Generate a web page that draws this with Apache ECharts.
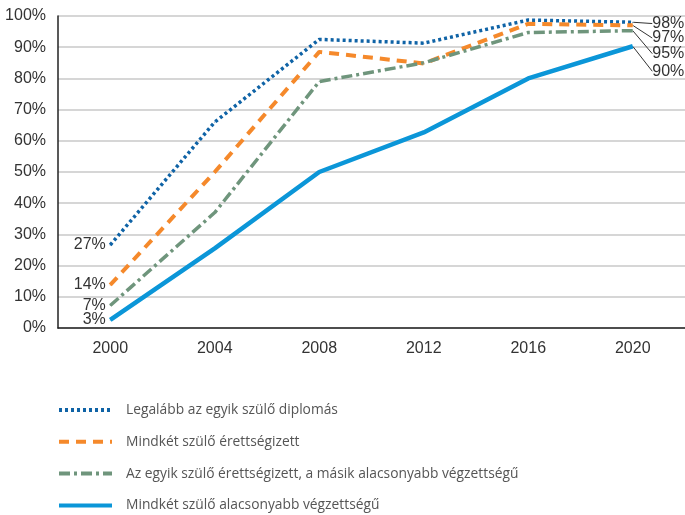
<!DOCTYPE html>
<html>
<head>
<meta charset="utf-8">
<script src="https://cdn.jsdelivr.net/npm/echarts@6/dist/echarts.min.js"></script>
<style>
html, body { margin: 0; padding: 0; background: #fff; }
#chart { width: 685px; height: 515px; }
</style>
</head>
<body>
<div id="chart"></div>
<script>
// évek és a négy szülői csoport aránya (%)
var years = ['2000', '2004', '2008', '2012', '2016', '2020'];
var names = [
    'Legalább az egyik szülő diplomás',
    'Mindkét szülő érettségizett',
    'Az egyik szülő érettségizett, a másik alacsonyabb végzettségű',
    'Mindkét szülő alacsonyabb végzettségű'
];
var diplomas = [26.6, 66, 92.5, 91.3, 98.7, 98];
var erettsegi = [13.8, 50, 88.5, 84.8, 97.5, 97];
var vegyes = [7.2, 37, 79, 85, 94.7, 95.3];
var alacsony = [2.6, 25.5, 50, 62.7, 80, 90.3];

var myChart = echarts.init(document.getElementById('chart'));

var labelFont = {
    color: '#333',
    fontSize: 16,
    fontFamily: 'Liberation Sans'
};

// első és utolsó pont felirata
function makeData(values, leftDy) {
    return values.map(function (v, i) {
        var item = { value: v };
        if (i === 0) {
            item.label = {
                show: true,
                position: 'left',
                distance: 4,
                offset: [0, leftDy]
            };
        }
        if (i === values.length - 1) {
            item.label = {
                show: true,
                position: 'right',
                distance: 4
            };
            item.labelLine = { show: true };
        }
        return item;
    });
}

function makeSeries(name, values, color, width, type, leftDy, rightDy) {
    var last = values.length - 1;
    return {
        name: name,
        type: 'line',
        data: makeData(values, leftDy),
        symbol: 'circle',
        symbolSize: 1,
        itemStyle: { color: color },
        lineStyle: {
            color: color,
            width: width,
            type: type,
            cap: 'butt',
            join: 'round'
        },
        label: {
            show: false,
            formatter: function (p) {
                return Math.round(p.value) + '%';
            },
            color: labelFont.color,
            fontSize: labelFont.fontSize,
            fontFamily: labelFont.fontFamily
        },
        labelLine: {
            show: false,
            lineStyle: { color: '#333', width: 1 }
        },
        labelLayout: function (params) {
            if (params.dataIndex === last) {
                return { dx: 15, dy: rightDy };
            }
            return {};
        },
        emphasis: { disabled: true },
        animation: false
    };
}

var option = {
    backgroundColor: '#fff',
    grid: {
        left: 58,
        right: 0,
        top: 16,
        height: 312
    },
    legend: {
        orient: 'vertical',
        left: 57,
        top: 403,
        padding: 0,
        itemWidth: 53,
        itemHeight: 14,
        itemGap: 17.8,
        itemStyle: { opacity: 0 },
        lineStyle: { width: 4 },
        textStyle: {
            color: '#555',
            fontSize: 13.8,
            lineHeight: 14,
            fontFamily: 'Open Sans',
            padding: [0, 0, 0, 9]
        },
        data: names
    },
    xAxis: {
        type: 'category',
        data: years,
        boundaryGap: true,
        axisLine: { lineStyle: { color: '#222', width: 1.5 } },
        axisTick: { show: false },
        axisLabel: {
            margin: 13,
            color: '#333',
            fontSize: 16,
            fontFamily: 'Liberation Sans'
        },
        splitLine: { show: false }
    },
    yAxis: {
        type: 'value',
        min: 0,
        max: 100,
        interval: 10,
        axisLine: { show: true, lineStyle: { color: '#222', width: 1.5 } },
        axisTick: { show: false },
        axisLabel: {
            margin: 12,
            formatter: '{value}%',
            color: '#333',
            fontSize: 16,
            fontFamily: 'Liberation Sans'
        },
        splitLine: { lineStyle: { color: '#c8c8c8', width: 1.5 } }
    },
    series: [
        makeSeries(names[0], diplomas, '#0f63a6', 3.5, [3, 3], 3, 1.3),
        makeSeries(names[1], erettsegi, '#f5892b', 4, [10, 7], 4, 12.7),
        makeSeries(names[2], vegyes, '#6f957c', 3.5, [11, 4, 3, 4], 0, 23),
        makeSeries(names[3], alacsony, '#0b96d8', 4.5, 'solid', 1, 25)
    ]
};

myChart.setOption(option);

window.addEventListener('resize', function () {
    myChart.resize();
});
</script>
</body>
</html>
